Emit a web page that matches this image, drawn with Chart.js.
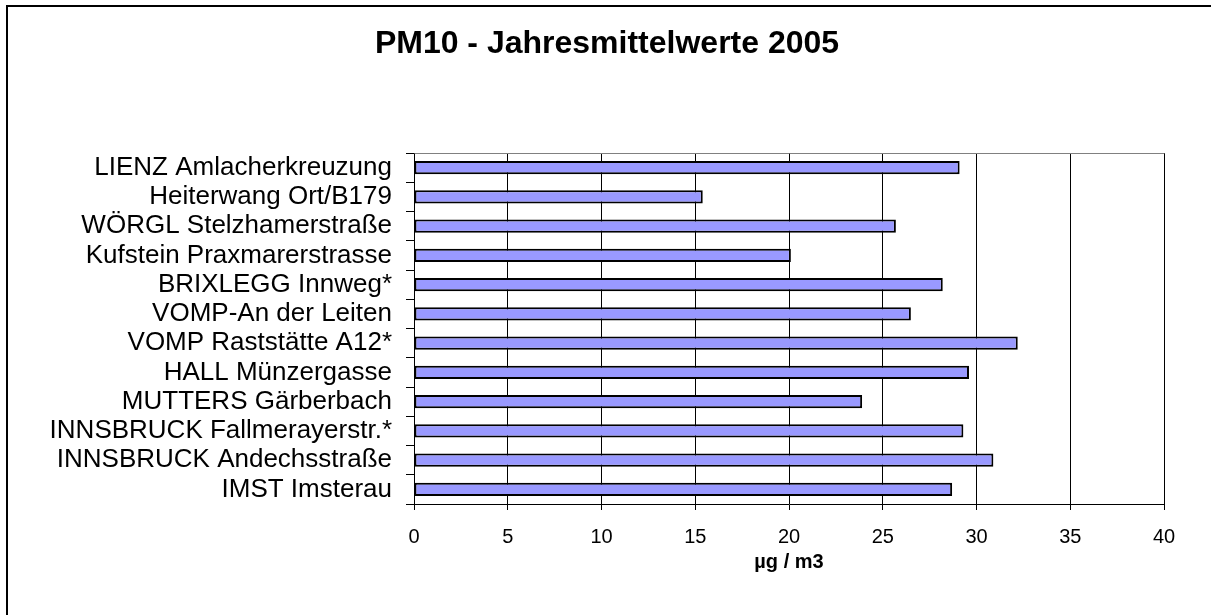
<!DOCTYPE html>
<html>
<head>
<meta charset="utf-8">
<script src="https://cdn.jsdelivr.net/npm/chart.js@4"></script>
<style>
  html, body { margin: 0; padding: 0; background: #fff; }
  #wrap { width: 1211px; height: 615px; position: relative; }
</style>
</head>
<body>
<div id="wrap"><canvas id="c" width="1211" height="615"></canvas></div>
<script>
const stations = [
  "LIENZ Amlacherkreuzung",
  "Heiterwang Ort/B179",
  "WÖRGL Stelzhamerstraße",
  "Kufstein Praxmarerstrasse",
  "BRIXLEGG Innweg*",
  "VOMP-An der Leiten",
  "VOMP Raststätte A12*",
  "HALL Münzergasse",
  "MUTTERS Gärberbach",
  "INNSBRUCK Fallmerayerstr.*",
  "INNSBRUCK Andechsstraße",
  "IMST Imsterau"
];
const pm10Values = [29.1, 15.4, 25.7, 20.1, 28.2, 26.5, 32.2, 29.6, 23.9, 29.3, 30.9, 28.7];
const chartTitle = "PM10 - Jahresmittelwerte 2005";
const xAxisTitle = "µg / m3";
const xMin = 0, xMax = 40, xStep = 5;

const FONT = "'Liberation Sans', Arial, sans-serif";

const framePlugin = {
  id: 'frame',
  beforeDraw(chart) {
    const ctx = chart.ctx;
    ctx.save();
    ctx.fillStyle = '#fff';
    ctx.fillRect(0, 0, chart.width, chart.height);
    ctx.strokeStyle = '#000';
    ctx.lineWidth = 2;
    ctx.strokeRect(7, 6, chart.width + 20, chart.height + 20);
    ctx.restore();
  },
  afterDatasetsDraw(chart) {
    const ctx = chart.ctx;
    const a = chart.chartArea;
    ctx.save();
    ctx.strokeStyle = '#808080';
    ctx.lineWidth = 1;
    ctx.beginPath();
    ctx.moveTo(Math.round(a.left) + 0.5, Math.round(a.top) + 0.5);
    ctx.lineTo(Math.round(a.right) + 0.5, Math.round(a.top) + 0.5);
    ctx.stroke();
    ctx.restore();
  }
};

new Chart(document.getElementById('c'), {
  type: 'bar',
  data: {
    labels: stations,
    datasets: [{
      data: pm10Values,
      backgroundColor: '#9999FF',
      borderColor: '#000000',
      borderWidth: 2,
      borderSkipped: false,
      categoryPercentage: 1.0,
      barPercentage: 0.45
    }]
  },
  options: {
    indexAxis: 'y',
    responsive: false,
    animation: false,
    layout: { padding: { left: 50, right: 47, top: 0, bottom: 0 } },
    plugins: {
      legend: { display: false },
      tooltip: { enabled: false },
      title: {
        display: true,
        text: chartTitle,
        color: '#000',
        font: { family: FONT, size: 32, weight: 'bold' },
        padding: { top: 25, bottom: 89.6 }
      }
    },
    scales: {
      x: {
        type: 'linear',
        position: 'bottom',
        min: xMin,
        max: xMax,
        afterFit(scale) { scale.height = 111; },
        ticks: {
          stepSize: xStep,
          color: '#000',
          padding: 15,
          font: { family: FONT, size: 20 },
          maxRotation: 0
        },
        grid: {
          color: '#000',
          lineWidth: 1,
          drawTicks: true,
          tickLength: 6,
          tickColor: '#000'
        },
        border: { display: true, color: '#000', width: 1 },
        title: {
          display: true,
          text: xAxisTitle,
          color: '#000',
          font: { family: FONT, size: 20, weight: 'bold' },
          padding: { top: 0, bottom: 41 }
        }
      },
      y: {
        type: 'category',
        position: 'left',
        offset: true,
        afterFit(scale) { scale.width = 364; },
        ticks: {
          autoSkip: false,
          color: '#000',
          padding: 14,
          font: { family: FONT, size: 26, lineHeight: 1.0 }
        },
        grid: {
          offset: true,
          drawOnChartArea: false,
          drawTicks: true,
          tickLength: 8,
          color: '#000',
          tickColor: '#000'
        },
        border: { display: true, color: '#000', width: 1 }
      }
    }
  },
  plugins: [framePlugin]
});
</script>
</body>
</html>
